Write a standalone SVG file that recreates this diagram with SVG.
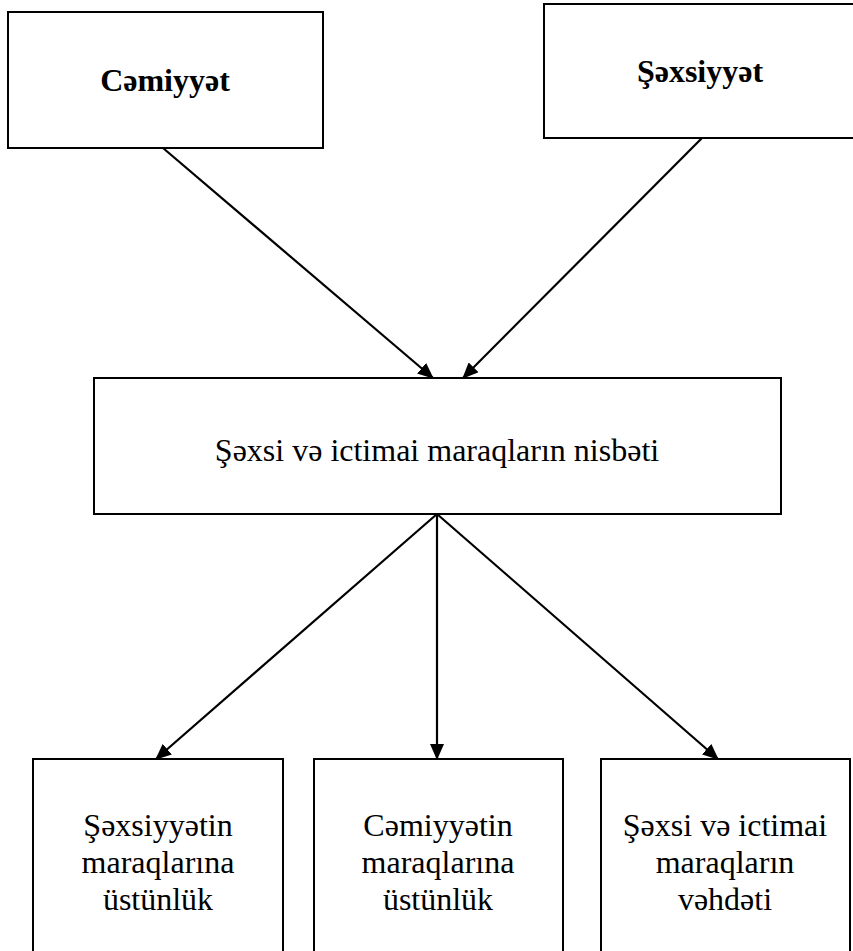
<svg xmlns="http://www.w3.org/2000/svg" width="853" height="951" viewBox="0 0 853 951">
<style>
.box{fill:#fff;stroke:#000;stroke-width:2}
text{font-family:'Liberation Serif','Times New Roman','DejaVu Serif',serif;font-size:32px;fill:#000;text-anchor:middle}
.b{font-weight:bold}
.c{stroke:#000;stroke-width:2.2;fill:none;marker-end:url(#ah)}
</style>
<defs>
<marker id="ah" viewBox="0 0 16 14" refX="15" refY="7" markerWidth="16" markerHeight="14" markerUnits="userSpaceOnUse" orient="auto">
<path d="M0,0 L16,7 L0,14 z" fill="#000"/>
</marker>
</defs>
<rect width="853" height="951" fill="#fff"/>
<g id="connectors">
<line class="c" x1="163" y1="148" x2="433" y2="378"/>
<line class="c" x1="702" y1="138" x2="463" y2="378"/>
<line class="c" x1="437" y1="514" x2="156" y2="759"/>
<line class="c" x1="437" y1="514" x2="437" y2="759"/>
<line class="c" x1="437" y1="514" x2="718" y2="759"/>
</g>
<g id="n-cemiyyet">
<rect class="box" x="8" y="12" width="315" height="136"/>
<text class="b" x="165" y="91" font-family="Liberation Serif, serif">Cəmiyyət</text>
</g>
<g id="n-sexsiyyet">
<rect class="box" x="544" y="4" width="312" height="134"/>
<text class="b" x="700" y="82" font-family="Liberation Serif, serif">Şəxsiyyət</text>
</g>
<g id="n-nisbet">
<rect class="box" x="94" y="378" width="687" height="136"/>
<text x="437" y="461" font-family="Liberation Serif, serif">Şəxsi və ictimai maraqların nisbəti</text>
</g>
<g id="n-sexsiyyetin">
<rect class="box" x="33" y="759" width="250" height="200"/>
<text x="158" y="836" font-family="Liberation Serif, serif">Şəxsiyyətin</text>
<text x="158" y="873" font-family="Liberation Serif, serif">maraqlarına</text>
<text x="158" y="910" font-family="Liberation Serif, serif">üstünlük</text>
</g>
<g id="n-cemiyyetin">
<rect class="box" x="314" y="759" width="249" height="200"/>
<text x="438" y="836" font-family="Liberation Serif, serif">Cəmiyyətin</text>
<text x="438" y="873" font-family="Liberation Serif, serif">maraqlarına</text>
<text x="438" y="910" font-family="Liberation Serif, serif">üstünlük</text>
</g>
<g id="n-vehdet">
<rect class="box" x="601" y="759" width="249" height="200"/>
<text x="725" y="836" font-family="Liberation Serif, serif">Şəxsi və ictimai</text>
<text x="725" y="873" font-family="Liberation Serif, serif">maraqların</text>
<text x="725" y="910" font-family="Liberation Serif, serif">vəhdəti</text>
</g>
</svg>
